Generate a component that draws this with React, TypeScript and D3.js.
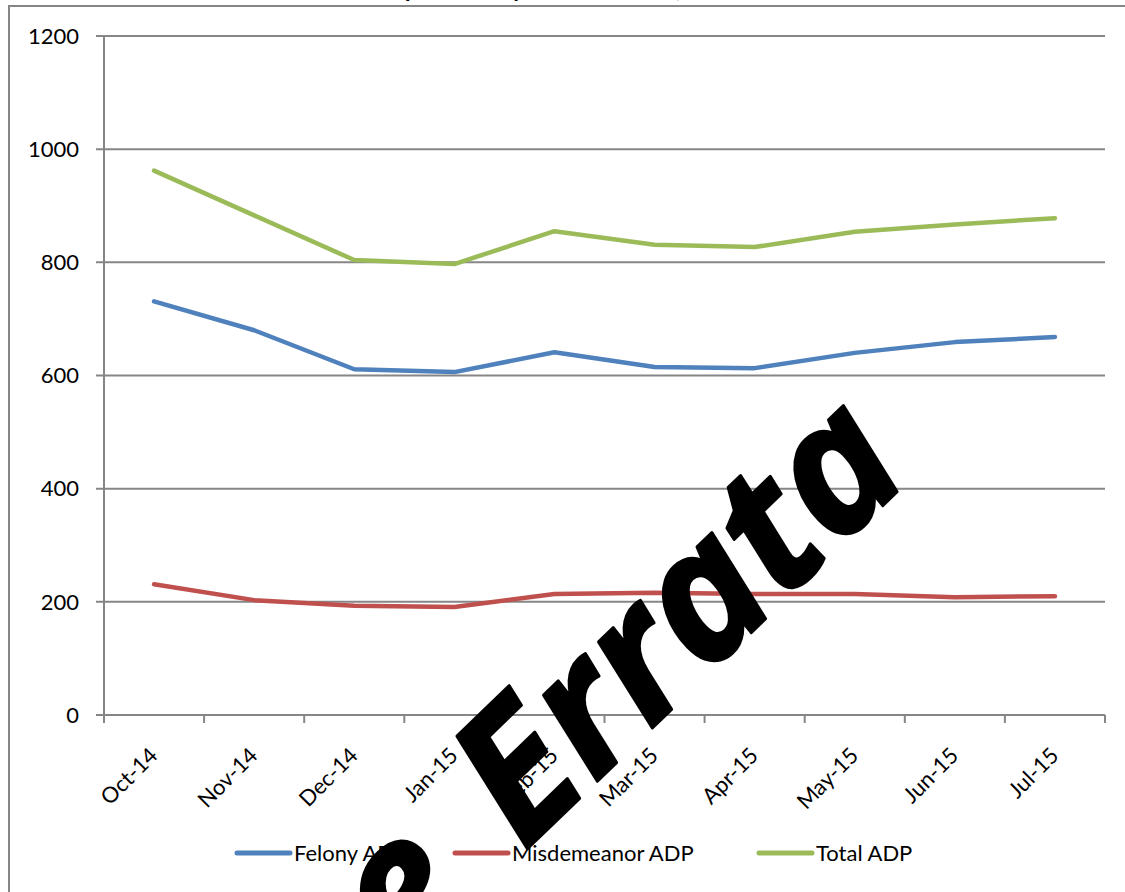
import React from "react";
import * as d3 from "d3";

const months = ["Oct-14", "Nov-14", "Dec-14", "Jan-15", "Feb-15", "Mar-15", "Apr-15", "May-15", "Jun-15", "Jul-15"];
const felony = [731, 680, 611, 606, 641, 615, 613, 640, 659, 668];
const misdemeanor = [231, 203, 193, 191, 214, 216, 214, 214, 208, 210];
const total = [962, 883, 804, 797, 855, 831, 827, 854, 867, 878];
const yTicks = [0, 200, 400, 600, 800, 1000, 1200];

const seriesList = [
  { name: "Felony ADP", values: felony, color: "#4F81BD", legendX: 235 },
  { name: "Misdemeanor ADP", values: misdemeanor, color: "#C0504D", legendX: 453 },
  { name: "Total ADP", values: total, color: "#9BBB59", legendX: 757 },
];

const W = 1125;
const H = 892;
const plot = { left: 104, right: 1105, top: 36, bottom: 715 };
const font = "Lato, 'Open Sans', sans-serif";
const markFont = "'Open Sans', 'Noto Sans', sans-serif";
const gray = "#868686";

export default function App() {
  const x = d3.scaleBand<string>().domain(months).range([plot.left, plot.right]);
  const y = d3.scaleLinear().domain([0, 1200]).range([plot.bottom, plot.top]);
  const cx = (m: string) => x(m)! + x.bandwidth() / 2;

  const line = d3.line<number>()
    .x((_, i) => cx(months[i]))
    .y(d => y(d));

  return (
    <svg width={W} height={H} style={{ position: "absolute", left: 0, top: 0, background: "white" }}>
      {/* title, mostly cut off above the frame */}
      <text x={562} y={-3} textAnchor="middle" fontFamily={font} fontWeight="bold" fontSize={24} fill="#000">
        Adult Pre-trial Population by Offense Level, Oct 2014 – Jul 2015
      </text>

      {/* outer chart frame */}
      <rect x={9} y={6} width={W + 20} height={H + 20} fill="none" stroke={gray} strokeWidth={2} />

      {/* gridlines + y labels */}
      {yTicks.map(t => (
        <g key={t}>
          <line x1={96} x2={plot.right} y1={y(t)} y2={y(t)} stroke={gray} strokeWidth={2} />
          <text x={79} y={y(t)} dy="0.35em" textAnchor="end" fontFamily={font} fontSize={22} fill="#000">
            {t}
          </text>
        </g>
      ))}

      {/* y axis */}
      <line x1={plot.left} x2={plot.left} y1={plot.top} y2={plot.bottom} stroke={gray} strokeWidth={2} />

      {/* x ticks */}
      {months.map(m => (
        <line key={m} x1={x(m)!} x2={x(m)!} y1={plot.bottom} y2={plot.bottom + 8} stroke={gray} strokeWidth={2} />
      ))}
      <line x1={plot.right} x2={plot.right} y1={plot.bottom} y2={plot.bottom + 8} stroke={gray} strokeWidth={2} />

      {/* x labels */}
      {months.map(m => (
        <text
          key={m}
          transform={`translate(${cx(m) + 5},${plot.bottom + 42}) rotate(-45)`}
          textAnchor="end"
          fontFamily={font}
          fontSize={22}
          fill="#000"
        >
          {m}
        </text>
      ))}

      {/* series */}
      {seriesList.map(s => (
        <path
          key={s.name}
          d={line(s.values) ?? ""}
          fill="none"
          stroke={s.color}
          strokeWidth={4.5}
          strokeLinejoin="round"
          strokeLinecap="round"
        />
      ))}

      {/* legend */}
      {seriesList.map(s => (
        <g key={s.name}>
          <line x1={s.legendX + 2} x2={s.legendX + 55} y1={853} y2={853} stroke={s.color} strokeWidth={5} strokeLinecap="round" />
          <text x={s.legendX + 59} y={861} fontFamily={font} fontSize={22} fill="#000">
            {s.name}
          </text>
        </g>
      ))}

      {/* watermark */}
      <g transform="translate(524,852) rotate(-44)">
        <text x={0} y={0} fontFamily={markFont} fontWeight="bold" fontStyle="italic" fontSize={182} fill="#000" stroke="#000" strokeWidth={3} strokeLinejoin="round">
          Errata
        </text>
        <text x={-68} y={0} textAnchor="end" fontFamily={markFont} fontWeight="bold" fontStyle="italic" fontSize={182} fill="#000" stroke="#000" strokeWidth={3} strokeLinejoin="round">
          See
        </text>
      </g>
    </svg>
  );
}
